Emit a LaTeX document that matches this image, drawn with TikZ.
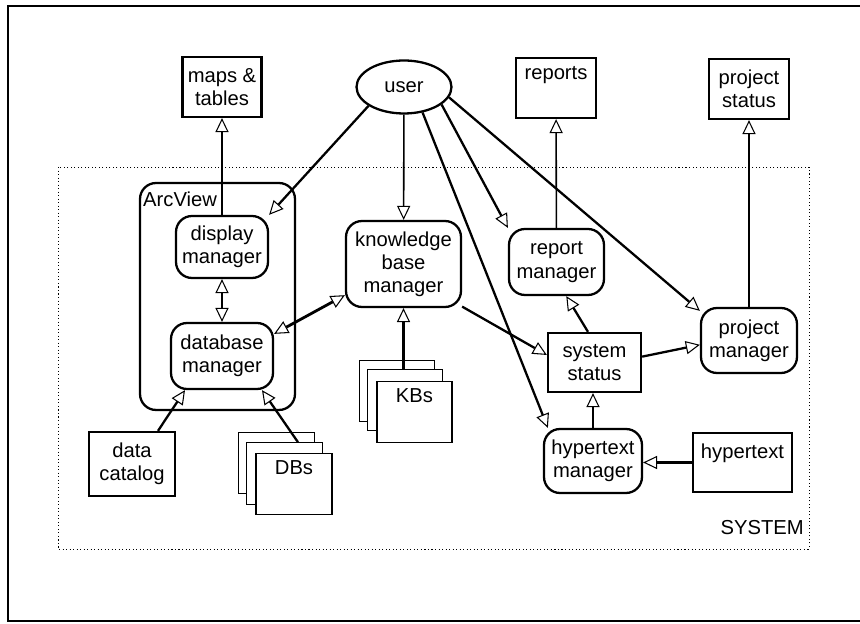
\documentclass[tikz,border=0pt]{standalone}
\usepackage{fontspec}
\setmainfont{Liberation Sans}
\usetikzlibrary{arrows.meta,shapes.geometric}
\tikzset{
  >={Triangle[fill=white,length=8pt,width=7.5pt,line width=0.6pt]},
  txt/.style={font=\fontsize{11.5}{13.2}\selectfont},
  box/.style={txt, draw, line width=1.3pt, align=center, inner sep=0pt, fill=white},
  mgr/.style={box, rounded corners=0.32cm},
  sheet/.style={box, line width=0.6pt, minimum width=1.52cm, minimum height=1.23cm},
  link/.style={line width=1.3pt, ->},
  thinlink/.style={line width=0.9pt, ->},
}
\begin{document}
\begin{tikzpicture}[x=0.02cm, y=-0.02cm]
                \useasboundingbox (0,0) rectangle (860,624);
                % Outer frame
                \draw [line width=1.2pt] (862,6) -- (8,6) -- (8,621) -- (862,621);%

                % SYSTEM area
                \draw [line width=0.5pt, dash pattern=on 0.6pt off 1.4pt] (58,167) rectangle (809,549);%
                \node [txt, inner sep=0pt, anchor=base east] (syslbl) at (804,535) {SYSTEM};%

                % Outputs above the system
                \node [box, minimum width=1.58cm, minimum height=1.2cm] (maps) at (222,87) {maps \&\\tables};%
                \node [box, ellipse, minimum width=1.9cm, minimum height=1.06cm] (user) at (404,87) {user};%
                \node [box, minimum width=1.6cm, minimum height=1.2cm] (reports) at (556,88) {reports\\[4pt]\mbox{}};%
                \node [box, minimum width=1.6cm, minimum height=1.2cm] (pstat) at (749,89) {project\\status};%

                % ArcView group
                \node [draw, line width=1.3pt, rounded corners=0.32cm, minimum width=3.1cm, minimum height=4.54cm] (arcv) at (217.5,296.5) {};%
                \node [txt, inner sep=0pt, anchor=north west] (arclbl) at ([xshift=0.08cm, yshift=-0.2cm]arcv.north west) {ArcView};%
                \node [mgr, minimum width=1.84cm, minimum height=1.24cm] (dispm) at (222,247) {display\\manager};%
                \node [mgr, minimum width=2.04cm, minimum height=1.32cm] (dbm) at (222,356) {database\\manager};%

                % Data sources
                \node [box, minimum width=1.72cm, minimum height=1.28cm] (dc) at (132,464) {data\\catalog};%
                \node [sheet] (dbsA) at (276.5,463) {};%
                \node [sheet] (dbsB) at (284.5,473.5) {};%
                \node [sheet] (dbs) at (294,484) {DBs\\[6pt]\mbox{}};%

                \node [mgr, minimum width=2.3cm, minimum height=1.72cm] (kbm) at (403.5,264) {knowledge\\base\\manager};%
                \node [sheet, minimum width=1.5cm] (kbsA) at (397,391) {};%
                \node [sheet, minimum width=1.5cm] (kbsB) at (405,400) {};%
                \node [sheet, minimum width=1.5cm] (kbs) at (414.5,412) {KBs\\[6pt]\mbox{}};%

                % Status side
                \node [mgr, minimum width=1.9cm, minimum height=1.32cm] (repm) at (556.5,262) {report\\manager};%
                \node [mgr, minimum width=1.92cm, minimum height=1.3cm] (pm) at (749,340.5) {project\\manager};%
                \node [box, minimum width=1.86cm, minimum height=1.18cm] (sys) at (594.5,362.5) {system\\status};%
                \node [mgr, minimum width=1.96cm, minimum height=1.28cm] (htm) at (593,461) {hypertext\\manager};%
                \node [box, minimum width=1.98cm, minimum height=1.18cm] (ht) at (742.5,462.5) {hypertext\\ \mbox{}};%

                % Drawing lines from user
                \draw [link] (user.208) -- (dispm.north east);%
                \draw [thinlink] (user) -- (kbm);%
                \draw [link] (user.-25) -- (repm.north west);%
                \draw [link] (user.-54) -- ([xshift=0.1cm]htm.north west);%
                \draw [link] (user.-13) -- ([yshift=-0.08cm]pm.north west);%

                % Drawing lines of ArcView
                \draw [link] (dispm) -- (maps);%
                \draw [link, <->] (dispm) -- (dbm);%
                \draw [link, <->, line width=1.6pt] (dbm.23) -- (kbm.208);%
                \draw [link] ([xshift=0.52cm]dc.north) -- ([xshift=-0.74cm]dbm.south);%
                \draw [link] ([xshift=0.27cm]dbsB.north) -- ([xshift=0.8cm]dbm.south);%
                \draw [link] (kbm.south |- kbsB.north) -- (kbm.south);%

                % Drawing lines of status side
                \draw [link] (kbm.-36) -- (sys.171);%
                \draw [link] (sys.102) -- (repm.-74);%
                \draw [link] (sys.7) -- (pm.185);%
                \draw [thinlink] (htm.north) -- (htm.north |- sys.south);%
                \draw [link] (ht.west) -- (ht.west -| htm.east);%
                \draw [thinlink] (repm) -- (reports);%
                \draw [link] (pm) -- (pstat);%
\end{tikzpicture}
\end{document}
